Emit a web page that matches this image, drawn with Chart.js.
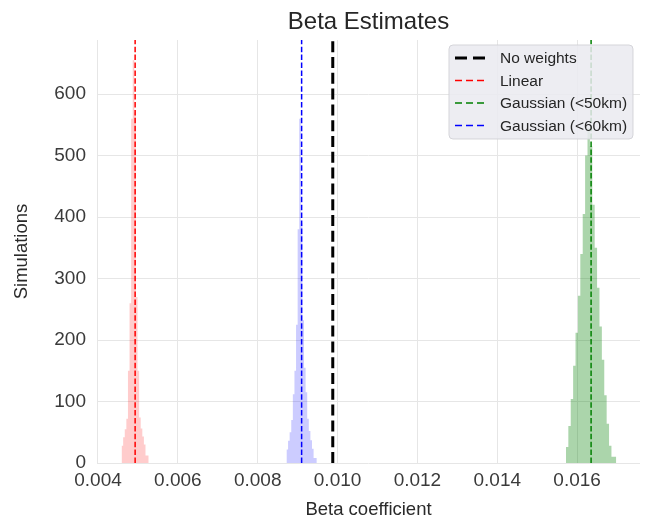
<!DOCTYPE html>
<html><head><meta charset="utf-8">
<script src="https://cdn.jsdelivr.net/npm/chart.js@4.4.1/dist/chart.umd.min.js"></script>
<style>html,body{margin:0;padding:0;background:#fff}#wrap{width:646px;height:524px;position:relative}</style>
</head><body><div id="wrap"><canvas id="c"></canvas></div>
<script>
// ---- data ----
const legendLabels = ['No weights', 'Linear', 'Gaussian (<50km)', 'Gaussian (<60km)'];
const lineValues = [0.00988, 0.00493, 0.01635, 0.0091];
const lineColors = ['#000000', '#ff0000', '#008000', '#0000ff'];

// histogram of simulated beta estimates (bin start, bin width, counts)
const linearBin = [0.00459, 0.00004];
const linearCounts = [10, 28, 42, 55, 72, 150, 260, 560, 655, 570, 270, 150, 74, 56, 43, 30, 12];
const gauss60Bin = [0.00872, 0.00004];
const gauss60Counts = [8, 22, 36, 50, 70, 112, 150, 225, 380, 560, 390, 232, 155, 115, 72, 52, 37, 23, 8];
const gauss50Bin = [0.01572, 0.00006];
const gauss50Counts = [9, 26, 60, 104, 158, 212, 272, 340, 405, 500, 545, 515, 420, 350, 285, 222, 168, 110, 64, 28, 10];

const xTickValues = [0.004, 0.006, 0.008, 0.010, 0.012, 0.014, 0.016];
const yTickValues = [0, 100, 200, 300, 400, 500, 600];
const xRange = [0.003975, 0.017575];
const yRange = [0, 688];

// ---- build ----
function histPoints(bin, counts) {
  const pts = counts.map((c, i) => ({ x: bin[0] + i * bin[1], y: c }));
  pts.push({ x: bin[0] + counts.length * bin[1], y: counts[counts.length - 1] });
  return pts;
}
function histDataset(bin, counts, fillColor) {
  return {
    data: histPoints(bin, counts), stepped: 'after', fill: 'origin',
    backgroundColor: fillColor, borderColor: 'rgba(0,0,0,0)', borderWidth: 0,
    pointRadius: 0, order: 2
  };
}
const dashStyles = [[11, 4.8], [5.5, 2.4], [5.5, 2.4], [5.5, 2.4]];
const widths = [3, 1.5, 1.5, 1.5];
const lineDatasets = lineValues.map((v, i) => ({
  label: legendLabels[i],
  data: [{ x: v, y: yRange[0] }, { x: v, y: yRange[1] }],
  borderColor: lineColors[i], borderWidth: widths[i], borderDash: dashStyles[i],
  pointRadius: 0, fill: false, order: 1
}));

const legendPlugin = {
  id: 'boxLegend',
  afterDraw(chart) {
    const ctx = chart.ctx, a = chart.chartArea;
    const boxW = 184, boxH = 94;
    const x0 = a.right - 7 - boxW, y0 = a.top + 5;
    ctx.save();
    ctx.beginPath();
    ctx.roundRect(x0, y0, boxW, boxH, 4);
    ctx.fillStyle = 'rgba(234,234,240,0.85)';
    ctx.fill();
    ctx.strokeStyle = 'rgba(210,210,214,0.9)';
    ctx.lineWidth = 1;
    ctx.stroke();
    const legDash = [[12, 6], [7, 4], [7, 4], [7, 4]];
    const legW = [3, 1.5, 1.5, 1.5];
    ctx.font = '15.5px "Liberation Sans", Arial, sans-serif';
    ctx.textBaseline = 'middle';
    ctx.textAlign = 'left';
    legendLabels.forEach((lab, i) => {
      const y = y0 + 13 + i * 22.5;
      ctx.beginPath();
      ctx.setLineDash(legDash[i]);
      ctx.lineWidth = legW[i];
      ctx.strokeStyle = lineColors[i];
      ctx.moveTo(x0 + 6, y);
      ctx.lineTo(x0 + 36, y);
      ctx.stroke();
      ctx.setLineDash([]);
      ctx.fillStyle = '#262626';
      ctx.fillText(lab, x0 + 51, y + 1);
    });
    ctx.restore();
  }
};

const FONT = '"Liberation Sans", Arial, sans-serif';
new Chart(document.getElementById('c'), {
  type: 'line',
  data: {
    datasets: [
      ...lineDatasets,
      histDataset(linearBin, linearCounts, 'rgba(255,0,0,0.2)'),
      histDataset(gauss60Bin, gauss60Counts, 'rgba(0,0,255,0.2)'),
      histDataset(gauss50Bin, gauss50Counts, 'rgba(0,128,0,0.33)')
    ]
  },
  options: {
    responsive: true, maintainAspectRatio: false, animation: false,
    layout: { padding: { left: 0, right: 6, top: 0, bottom: 0 } },
    plugins: {
      legend: { display: false },
      tooltip: { enabled: false },
      title: {
        display: true, text: 'Beta Estimates', fullSize: false, color: '#262626',
        font: { family: FONT, size: 24, weight: 'normal' }, padding: { top: 8, bottom: 3.2 }
      }
    },
    scales: {
      x: {
        type: 'linear', min: xRange[0], max: xRange[1],
        afterBuildTicks: s => { s.ticks = xTickValues.map(v => ({ value: v })); },
        afterFit: s => { s.height = 61; },
        ticks: { color: '#3a3a3a', font: { family: FONT, size: 19 }, padding: 6, maxRotation: 0,
                 callback: v => Number(v).toFixed(3) },
        grid: { color: '#e6e6e6', lineWidth: 1, drawTicks: false },
        border: { display: false },
        title: { display: true, text: 'Beta coefficient', color: '#2a2a2a',
                 font: { family: FONT, size: 18.5 }, padding: { top: 0, bottom: 3 } }
      },
      y: {
        type: 'linear', min: yRange[0], max: yRange[1],
        afterBuildTicks: s => { s.ticks = yTickValues.map(v => ({ value: v })); },
        afterFit: s => { s.width = 97; },
        ticks: { color: '#3a3a3a', font: { family: FONT, size: 19 }, padding: 11 },
        grid: { color: '#e6e6e6', lineWidth: 1, drawTicks: false },
        border: { display: false },
        title: { display: true, text: 'Simulations', color: '#2a2a2a',
                 font: { family: FONT, size: 18.5 }, padding: { top: 11, bottom: 0 } }
      }
    }
  },
  plugins: [legendPlugin]
});
</script>
</body></html>
